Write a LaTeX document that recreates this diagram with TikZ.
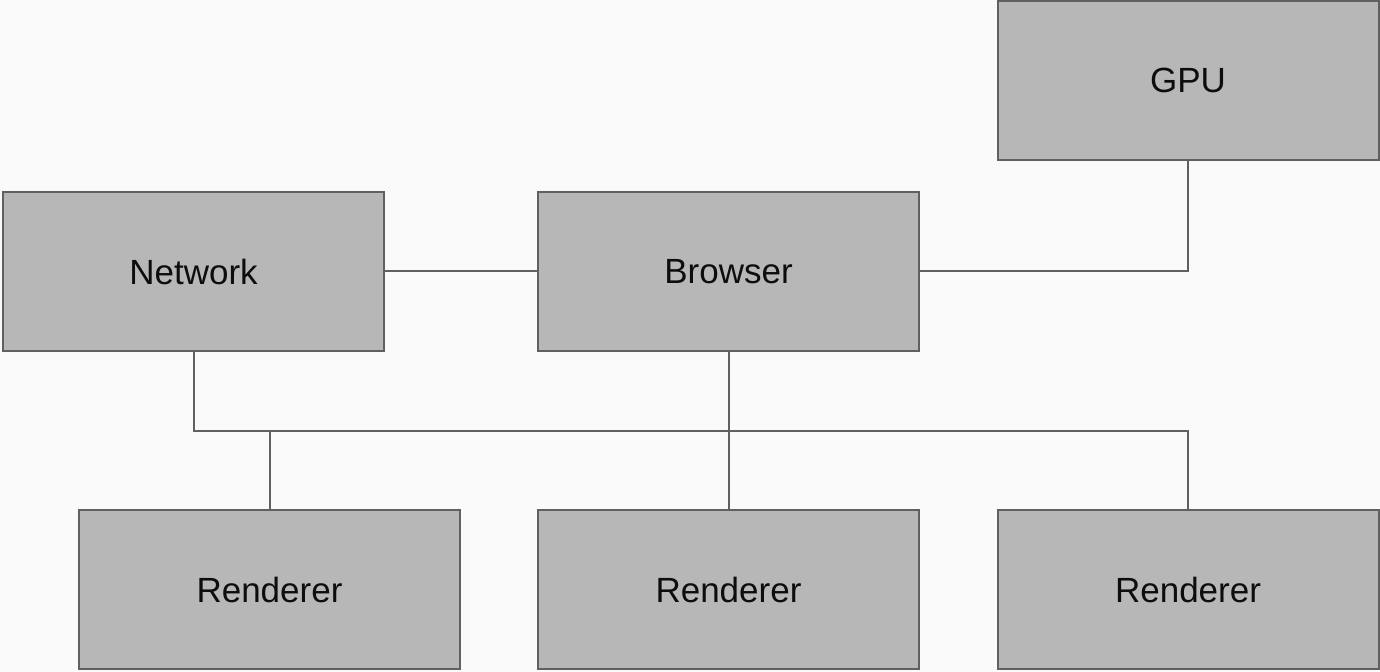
\documentclass[tikz,border=0pt]{standalone}
\usepackage{fontspec}
\setmainfont{Liberation Sans}
\usetikzlibrary{positioning}
\definecolor{boxgray}{HTML}{B7B7B7}
\definecolor{linegray}{HTML}{606060}
\definecolor{paper}{HTML}{FAFAFA}

\begin{document}
\begin{tikzpicture}[x=0.5pt,y=-0.5pt,
    box/.style={rectangle,draw=linegray,fill=boxgray,line width=1pt,minimum width=190.5pt,minimum height=79.5pt,font=\fontsize{17.5}{21}\selectfont,text=black!95},
    wire/.style={draw=linegray,line width=1pt}]

            \fill[paper] (0,0) rectangle (1380,672);
            \useasboundingbox (0,0) rectangle (1380,672);

            \node[box] (browser) at (728.5,271.5) {Browser};
            \node[box] (network) [left of = browser, node distance=267.5pt] {Network};
            \node[box] (gpu) at (1188,80.5) {GPU};
            \node[box] (r1) at (269.5,589.5) {Renderer};
            \node[box] (r2) [below of = browser, node distance=159pt] {Renderer};
            \node[box] (r3) [below of = gpu, node distance=254.5pt] {Renderer};

            \coordinate (bus) at (0,431);

            \draw[wire] (network) to (browser);
            \draw[wire] (browser) -| (gpu);
            \draw[wire] (browser) to (r2);
            \draw[wire] (network.south) |- (bus -| r3.north) -- (r3.north);
            \draw[wire] (r1.north) -- (r1.north |- bus);

            ;
        \end{tikzpicture}
\end{document}
